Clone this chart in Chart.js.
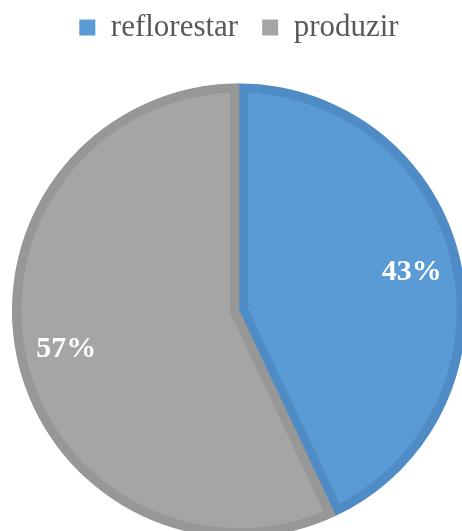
<!DOCTYPE html>
<html>
<head>
<meta charset="utf-8">
<script src="https://cdn.jsdelivr.net/npm/chart.js@4/dist/chart.umd.min.js"></script>
<style>
    html, body { margin: 0; padding: 0; background: #fff; overflow: hidden; }
    #wrap { position: relative; width: 462px; height: 531px; overflow: hidden; }
    /* the pie runs past the right and bottom edges, so the canvas is larger than the page */
    #landUseChart { position: absolute; left: 0; top: -12px; }
</style>
</head>
<body>
<div id="wrap">
    <canvas id="landUseChart" width="478" height="580"></canvas>
</div>
<script>
var categories = ['reflorestar', 'produzir'];
var shares = [43, 57];
var fillColors = ['#5b9bd5', '#a5a5a5'];
var edgeColors = ['#4f8cc6', '#979797'];

// percentage labels placed along each slice's middle angle
var sliceLabels = {
    id: 'sliceLabels',
    afterDatasetsDraw: function (chart) {
        var ctx = chart.ctx;
        var meta = chart.getDatasetMeta(0);
        ctx.save();
        ctx.font = 'bold 30px "Liberation Serif", "Times New Roman", serif';
        ctx.fillStyle = '#ffffff';
        ctx.textAlign = 'center';
        ctx.textBaseline = 'middle';
        meta.data.forEach(function (arc, i) {
            var p = arc.getProps(['x', 'y', 'startAngle', 'endAngle', 'outerRadius'], true);
            var mid = (p.startAngle + p.endAngle) / 2;
            var r = p.outerRadius * 0.78;
            ctx.fillText(shares[i] + '%', p.x + Math.cos(mid) * r, p.y + Math.sin(mid) * r);
        });
        ctx.restore();
    }
};

var baseLabels = Chart.overrides.pie.plugins.legend.labels.generateLabels;

new Chart(document.getElementById('landUseChart'), {
    type: 'pie',
    data: {
        labels: categories,
        datasets: [{
            data: shares,
            backgroundColor: fillColors,
            borderColor: edgeColors,
            borderWidth: 9,
            borderAlign: 'inner',
            radius: 227,
        }],
    },
    options: {
        responsive: false,
        animation: false,
        layout: { padding: 0 },
        plugins: {
            tooltip: { enabled: false },
            legend: {
                position: 'top',
                labels: {
                    boxWidth: 16,
                    boxHeight: 16,
                    padding: 24,
                    color: '#595959',
                    font: { family: '"Liberation Serif", "Times New Roman", serif', size: 31 },
                    generateLabels: function (chart) {
                        return baseLabels(chart).map(function (item, i) {
                            item.strokeStyle = fillColors[i];
                            item.lineWidth = 0;
                            return item;
                        });
                    },
                },
            },
        },
    },
    plugins: [sliceLabels],
});
</script>
</body>
</html>
